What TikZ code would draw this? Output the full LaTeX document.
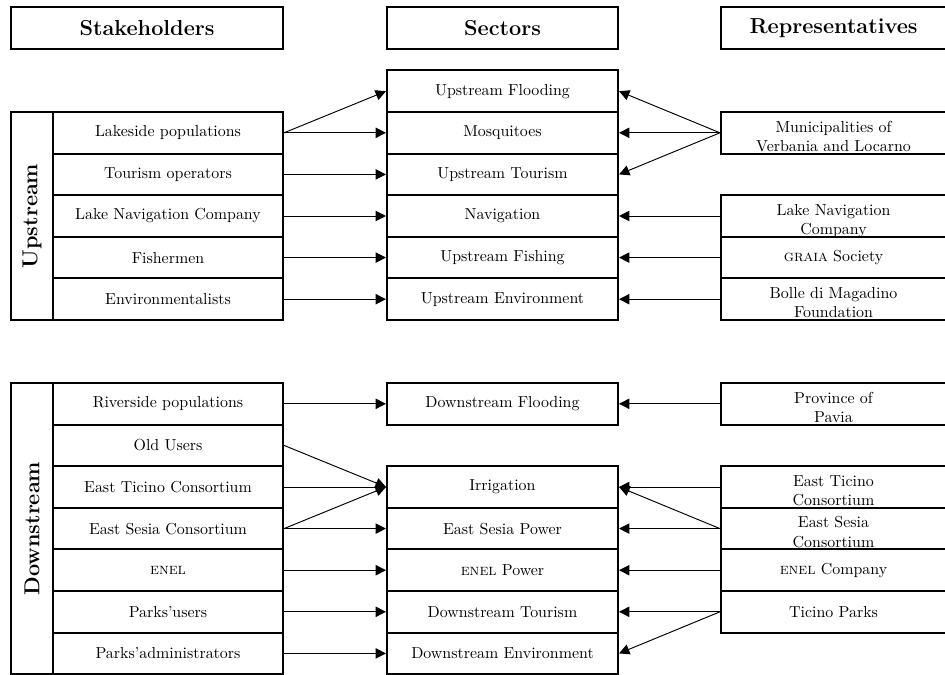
\documentclass[tikz,border=0pt]{standalone}
\usetikzlibrary{arrows.meta}
\newlength\pxl \setlength\pxl{0.628pt}
\newcommand\twol[2]{\raisebox{-3.2pt}[\height][\depth]{\begin{tabular}{@{}c@{}}#1\\#2\end{tabular}}}
\begin{document}
\begin{tikzpicture}[x=\pxl,y=-\pxl,
 box/.style={draw, line width=1.3pt, inner sep=0pt, align=center, font=\fontsize{10}{12}\selectfont},
 hdr/.style={box, font=\fontsize{13.6}{16}\selectfont\bfseries},
 sz/.style 2 args={minimum width=#1\pxl, minimum height=#2\pxl},
 srow/.style={box, sz={230}{41.6}},
 crow/.style={box, sz={231}{41.6}},
 rrow/.style={box, sz={225}{41.6}},
 arr/.style={-{Triangle[length=6.5pt,width=6.5pt]}, line width=0.6pt},
]
\useasboundingbox (0,0) rectangle (945,675);
% headers
\node[hdr, sz={272}{42}] (h1) at (147,28) {Stakeholders};
\node[hdr, sz={231}{42}] (h2) at (502.5,28) {Sectors};
\node[hdr, sz={225}{42}] (h3) at (833.5,28) {Representatives};
% upstream
\node[hdr, rotate=90, sz={208}{42}] (up) at (32,216) {Upstream};
\node[srow] (s1) at (168,132.8) {Lakeside populations};
\node[srow] (s2) at (168,174.4) {Tourism operators};
\node[srow] (s3) at (168,216) {Lake Navigation Company};
\node[srow] (s4) at (168,257.6) {Fishermen};
\node[srow] (s5) at (168,299.2) {Environmentalists};
\node[crow] (c0) at (502.5,91.2) {Upstream Flooding};
\node[crow] (c1) at (502.5,132.8) {Mosquitoes};
\node[crow] (c2) at (502.5,174.4) {Upstream Tourism};
\node[crow] (c3) at (502.5,216) {Navigation};
\node[crow] (c4) at (502.5,257.6) {Upstream Fishing};
\node[crow] (c5) at (502.5,299.2) {Upstream Environment};
\node[rrow] (r1) at (833.5,132.8) {\twol{Municipalities of}{Verbania and Locarno}};
\node[rrow] (r3) at (833.5,216) {\twol{Lake Navigation}{Company}};
\node[rrow] (r4) at (833.5,257.6) {\textsc{graia} Society};
\node[rrow] (r5) at (833.5,299.2) {\twol{Bolle di Magadino}{Foundation}};
\draw[arr] (s1.east) -- (c0.west);
\draw[arr] (s1.east) -- (c1.west);
\draw[arr] (s2.east) -- (c2.west);
\draw[arr] (s3.east) -- (c3.west);
\draw[arr] (s4.east) -- (c4.west);
\draw[arr] (s5.east) -- (c5.west);
\draw[arr] (r1.west) -- (c0.east);
\draw[arr] (r1.west) -- (c1.east);
\draw[arr] (r1.west) -- (c2.east);
\draw[arr] (r3.west) -- (c3.east);
\draw[arr] (r4.west) -- (c4.east);
\draw[arr] (r5.west) -- (c5.east);
% downstream
\node[hdr, rotate=90, sz={291.2}{42}] (down) at (32,528.6) {Downstream};
\node[srow] (d1) at (168,403.8) {Riverside populations};
\node[srow] (d2) at (168,445.4) {Old Users};
\node[srow] (d3) at (168,487) {East Ticino Consortium};
\node[srow] (d4) at (168,528.6) {East Sesia Consortium};
\node[srow] (d5) at (168,570.2) {\textsc{enel}};
\node[srow] (d6) at (168,611.8) {Parks'users};
\node[srow] (d7) at (168,653.4) {Parks'administrators};
\node[crow] (e1) at (502.5,403.8) {Downstream Flooding};
\node[crow] (e3) at (502.5,487) {Irrigation};
\node[crow] (e4) at (502.5,528.6) {East Sesia Power};
\node[crow] (e5) at (502.5,570.2) {\textsc{enel} Power};
\node[crow] (e6) at (502.5,611.8) {Downstream Tourism};
\node[crow] (e7) at (502.5,653.4) {Downstream Environment};
\node[rrow] (p1) at (833.5,403.8) {\twol{Province of}{Pavia}};
\node[rrow] (p3) at (833.5,487) {\twol{East Ticino}{Consortium}};
\node[rrow] (p4) at (833.5,528.6) {\twol{East Sesia}{Consortium}};
\node[rrow] (p5) at (833.5,570.2) {\textsc{enel} Company};
\node[rrow] (p6) at (833.5,611.8) {Ticino Parks};
\draw[arr] (d1.east) -- (e1.west);
\draw[arr] (d2.east) -- (e3.west);
\draw[arr] (d3.east) -- (e3.west);
\draw[arr] (d4.east) -- (e3.west);
\draw[arr] (d4.east) -- (e4.west);
\draw[arr] (d5.east) -- (e5.west);
\draw[arr] (d6.east) -- (e6.west);
\draw[arr] (d7.east) -- (e7.west);
\draw[arr] (p1.west) -- (e1.east);
\draw[arr] (p3.west) -- (e3.east);
\draw[arr] (p4.west) -- (e3.east);
\draw[arr] (p4.west) -- (e4.east);
\draw[arr] (p5.west) -- (e5.east);
\draw[arr] (p6.west) -- (e6.east);
\draw[arr] (p6.west) -- (e7.east);
\end{tikzpicture}
\end{document}
